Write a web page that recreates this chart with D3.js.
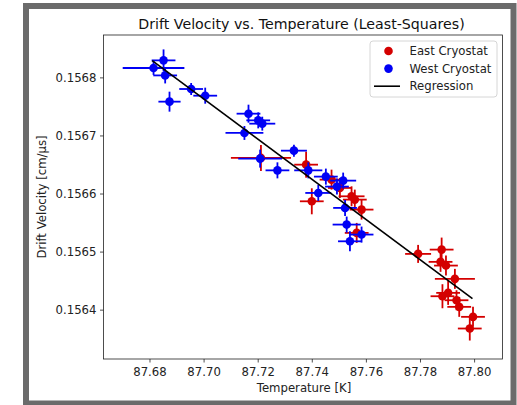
<!DOCTYPE html>
<html>
<head>
<meta charset="utf-8">
<script src="https://cdn.jsdelivr.net/npm/d3@7"></script>
<style>
    body { margin: 0; background: #fff; }
    svg { display: block; font-family: "DejaVu Sans", sans-serif; }
</style>
</head>
<body>
<div class="chart"></div>
<script>
// east cryostat points
var eastT    = [87.7212, 87.7379, 87.7400, 87.7473, 87.7504, 87.7547, 87.7559, 87.7584, 87.7566, 87.7793,
                87.7880, 87.7876, 87.7896, 87.7929, 87.7904, 87.7883, 87.7935, 87.7945, 87.7996, 87.7984];
var eastV    = [0.1566613, 0.1566497, 0.1565866, 0.1566239, 0.1566096, 0.1565952, 0.1565895, 0.1565723, 0.1565322, 0.1564960,
                0.1565034, 0.1564823, 0.1564759, 0.1564530, 0.1564289, 0.1564231, 0.1564162, 0.1564048, 0.1563876, 0.1563675];
var eastTErr = [0.0111, 0.0044, 0.0044, 0.0044, 0.0044, 0.0048, 0.0044, 0.0044, 0.0044, 0.0048,
                0.0044, 0.0044, 0.0044, 0.0074, 0.0044, 0.0044, 0.0044, 0.0044, 0.0044, 0.0044];
var eastVErr = [0.0000224, 0.0000224, 0.0000224, 0.0000172, 0.0000172, 0.0000172, 0.0000172, 0.0000172, 0.0000172, 0.0000155,
                0.0000207, 0.0000172, 0.0000172, 0.0000172, 0.0000207, 0.0000207, 0.0000172, 0.0000172, 0.0000172, 0.0000207];

// west cryostat points
var westT    = [87.6815, 87.6852, 87.6858, 87.6874, 87.6954, 87.7006, 87.7151, 87.7166, 87.7202, 87.7217, 87.7209,
                87.7273, 87.7334, 87.7387, 87.7452, 87.7516, 87.7493, 87.7424, 87.7523, 87.7529, 87.7584, 87.7541];
var westV    = [0.1568162, 0.1568293, 0.1568034, 0.1567582, 0.1567800, 0.1567685, 0.1567043, 0.1567375, 0.1567260, 0.1567203, 0.1566601,
                0.1566399, 0.1566738, 0.1566399, 0.1566291, 0.1566222, 0.1566119, 0.1566010, 0.1565752, 0.1565465, 0.1565293, 0.1565177];
var westTErr = [0.0114, 0.0044, 0.0044, 0.0041, 0.0044, 0.0044, 0.0070, 0.0044, 0.0044, 0.0048, 0.0081,
                0.0044, 0.0048, 0.0052, 0.0044, 0.0048, 0.0044, 0.0048, 0.0044, 0.0052, 0.0044, 0.0044];
var westVErr = [0.0000120, 0.0000189, 0.0000138, 0.0000172, 0.0000103, 0.0000138, 0.0000120, 0.0000155, 0.0000138, 0.0000120, 0.0000155,
                0.0000138, 0.0000103, 0.0000138, 0.0000138, 0.0000138, 0.0000138, 0.0000138, 0.0000138, 0.0000138, 0.0000138, 0.0000172];

// least-squares line end points
var regT = [87.6810, 87.7994];
var regV = [0.156829, 0.156419];

var xTicks = [87.68, 87.70, 87.72, 87.74, 87.76, 87.78, 87.80];
var yTicks = [0.1564, 0.1565, 0.1566, 0.1567, 0.1568];

var legendLabels = ["East Cryostat", "West Cryostat", "Regression"];

(function () {
    var width = 517, height = 405;
    var margin = {left: 103.5, top: 35, right: 14.5, bottom: 46};
    var red = "#d40000", blue = "#0000f5";
    var fs = 11.7; // tick / label font size

    var svg = d3.select(".chart").append("svg")
        .attr("width", width)
        .attr("height", height);

    // grey frame round the figure
    svg.append("rect")
        .attr("x", 26).attr("y", 6)
        .attr("width", 487.5).attr("height", 397.5)
        .attr("fill", "#fff")
        .attr("stroke", "#6b6b6b")
        .attr("stroke-width", 6);

    var x = d3.scaleLinear()
        .domain([87.663, 87.8105])
        .range([margin.left, width - margin.right]);
    var y = d3.scaleLinear()
        .domain([0.156315, 0.156873])
        .range([height - margin.bottom, margin.top]);

    var plot = svg.append("g");

    // error bars + markers for one series
    function drawSeries(ts, vs, te, ve, color) {
        var g = plot.append("g");
        ts.forEach(function (t, i) {
            g.append("line")
                .attr("x1", x(t - te[i])).attr("x2", x(t + te[i]))
                .attr("y1", y(vs[i])).attr("y2", y(vs[i]))
                .attr("stroke", color).attr("stroke-width", 1.8);
            g.append("line")
                .attr("x1", x(t)).attr("x2", x(t))
                .attr("y1", y(vs[i] - ve[i])).attr("y2", y(vs[i] + ve[i]))
                .attr("stroke", color).attr("stroke-width", 1.8);
        });
        g.selectAll("circle").data(ts).enter().append("circle")
            .attr("cx", function (d) { return x(d); })
            .attr("cy", function (d, i) { return y(vs[i]); })
            .attr("r", 4.3)
            .attr("fill", color);
    }

    drawSeries(eastT, eastV, eastTErr, eastVErr, red);
    drawSeries(westT, westV, westTErr, westVErr, blue);

    plot.append("line")
        .attr("x1", x(regT[0])).attr("y1", y(regV[0]))
        .attr("x2", x(regT[1])).attr("y2", y(regV[1]))
        .attr("stroke", "#000").attr("stroke-width", 1.6);

    // axes
    var xAxis = svg.append("g")
        .attr("transform", "translate(0," + (height - margin.bottom) + ")")
        .call(d3.axisBottom(x).tickValues(xTicks).tickFormat(d3.format(".2f")).tickSizeOuter(0).tickSize(3.5));
    var yAxis = svg.append("g")
        .attr("transform", "translate(" + margin.left + ",0)")
        .call(d3.axisLeft(y).tickValues(yTicks).tickFormat(d3.format(".4f")).tickSizeOuter(0).tickSize(3.5));

    [xAxis, yAxis].forEach(function (a) {
        a.select(".domain").remove();
        a.selectAll("text").attr("font-size", fs).attr("fill", "#222").attr("font-family", "DejaVu Sans");
        a.selectAll("line").attr("stroke", "#222").attr("stroke-width", 0.8);
    });
    xAxis.selectAll("text").attr("dy", "0").attr("y", 17);
    yAxis.selectAll("text").attr("x", -7);

    // axes box
    svg.append("rect")
        .attr("x", margin.left).attr("y", margin.top)
        .attr("width", width - margin.right - margin.left)
        .attr("height", height - margin.bottom - margin.top)
        .attr("fill", "none")
        .attr("stroke", "#222").attr("stroke-width", 0.8);

    svg.append("text")
        .attr("x", 301.5).attr("y", 29)
        .attr("text-anchor", "middle")
        .attr("font-size", 14.2)
        .attr("fill", "#111")
        .text("Drift Velocity vs. Temperature (Least-Squares)");

    svg.append("text")
        .attr("x", 304).attr("y", 392)
        .attr("text-anchor", "middle")
        .attr("font-size", fs)
        .attr("fill", "#222")
        .text("Temperature [K]");

    svg.append("text")
        .attr("transform", "translate(46," + ((margin.top + height - margin.bottom) / 2) + ") rotate(-90)")
        .attr("text-anchor", "middle")
        .attr("font-size", fs)
        .attr("fill", "#222")
        .text("Drift Velocity [cm/μs]");

    // legend
    var legend = svg.append("g").attr("transform", "translate(370,41)");
    legend.append("rect")
        .attr("width", 127).attr("height", 56)
        .attr("rx", 3)
        .attr("fill", "#fff").attr("fill-opacity", 0.8)
        .attr("stroke", "#cccccc").attr("stroke-width", 0.8);

    legendLabels.forEach(function (label, i) {
        var ly = 10 + i * 17.6;
        if (i < 2) {
            legend.append("circle")
                .attr("cx", 18.5).attr("cy", ly)
                .attr("r", 4.3)
                .attr("fill", i === 0 ? red : blue);
        } else {
            legend.append("line")
                .attr("x1", 4).attr("x2", 30)
                .attr("y1", ly).attr("y2", ly)
                .attr("stroke", "#000").attr("stroke-width", 1.6);
        }
        legend.append("text")
            .attr("x", 39.5).attr("y", ly + 4.2)
            .attr("font-size", fs)
            .attr("fill", "#222")
            .text(label);
    });
}());
</script>
</body>
</html>
